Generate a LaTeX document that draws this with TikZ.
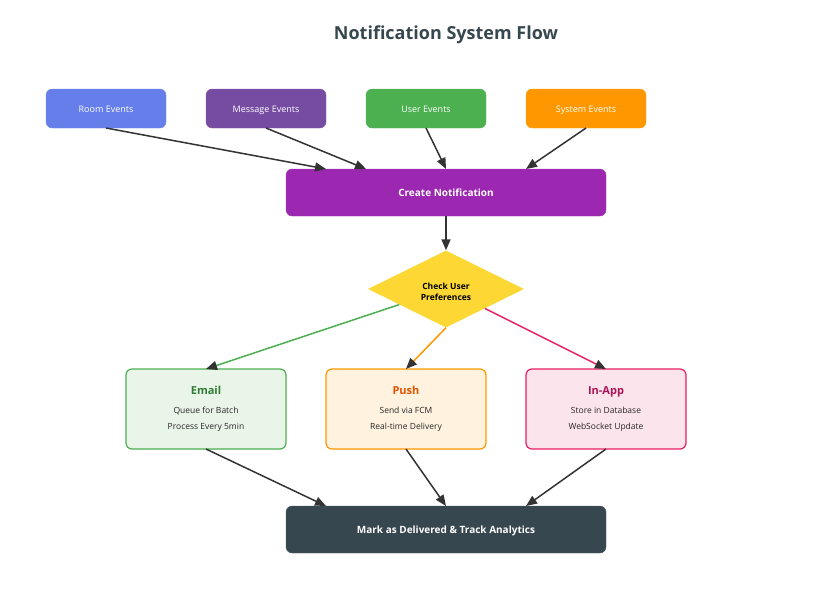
\documentclass[tikz,border=0pt]{standalone}
\usepackage{fontspec}
\setmainfont{Open Sans}
\usepackage{tikz}
\usetikzlibrary{positioning}
\usetikzlibrary{shapes.geometric}
\usetikzlibrary{arrows.meta}
\usetikzlibrary{calc}

\definecolor{titlegray}{HTML}{37474F}
\definecolor{roomblue}{HTML}{667EEA}
\definecolor{msgpurple}{HTML}{764BA2}
\definecolor{usergreen}{HTML}{4CAF50}
\definecolor{sysorange}{HTML}{FF9800}
\definecolor{createpurple}{HTML}{9C27B0}
\definecolor{prefyellow}{HTML}{FDD835}
\definecolor{emailtitle}{HTML}{2E7D32}
\definecolor{pushtitle}{HTML}{E65100}
\definecolor{inapppink}{HTML}{E91E63}
\definecolor{inapptitle}{HTML}{AD1457}
\definecolor{markslate}{HTML}{37474F}
\definecolor{arrowgray}{HTML}{333333}

\begin{document}
\begin{tikzpicture}[x=1pt,y=-1pt,
	event/.style={draw=#1!90!white, fill=#1, rounded corners=6pt, minimum width=120pt, minimum height=39pt, inner sep=0pt, outer sep=0pt, text height=8pt, text depth=0pt, text=white, font=\fontsize{9}{10}\selectfont},
	stage/.style={draw=#1!90!white, fill=#1, rounded corners=6pt, minimum width=320pt, minimum height=47pt, inner sep=0pt, outer sep=0pt, text height=8.5pt, text depth=0pt, text=white, font=\fontsize{10}{12}\selectfont\bfseries},
	channel/.style={draw=#1, fill=#1!12!white, line width=1.2pt, rounded corners=6pt, minimum width=160pt, minimum height=80pt, inner sep=0pt, outer sep=0pt, align=center, text=black!85, font=\fontsize{8.5}{16}\selectfont},
	flow/.style={-{Triangle[length=11pt,width=9pt,color=arrowgray]}, line width=1.5pt, draw=arrowgray},
	pref/.style={flow, draw=#1}]

	\useasboundingbox (0,0) rectangle (836,611);
	% Title %
	\node [text=titlegray, font=\fontsize{18}{21}\selectfont\bfseries] (title) at (446,35) {Notification System Flow};
	% Sources %
	\node [event=roomblue] (room) at (106,108.5) {Room Events};
	\node [event=msgpurple, right=40pt of room] (message) {Message Events};
	\node [event=usergreen, right=40pt of message] (user) {User Events};
	\node [event=sysorange, right=40pt of user] (system) {System Events};
	% Create %
	\node [stage=createpurple] (create) at (446,192.5) {Create Notification};
	% Preferences %
	\node [diamond, aspect=2, fill=prefyellow, minimum width=156pt, minimum height=77pt, inner sep=0pt, align=center, font=\fontsize{8.5}{11}\selectfont\bfseries] (check) at (446,289) {\rule{0pt}{12.5pt}Check User\\Preferences};
	% Channels %
	\node [channel=usergreen] (email) at (206,409) {{\fontsize{11}{13}\selectfont\bfseries\color{emailtitle}Email}\\[3pt]Queue for Batch\\Process Every 5min};
	\node [channel=sysorange, right=40pt of email] (push) {{\fontsize{11}{13}\selectfont\bfseries\color{pushtitle}Push}\\[3pt]Send via FCM\\Real-time Delivery};
	\node [channel=inapppink, right=40pt of push] (inapp) {{\fontsize{11}{13}\selectfont\bfseries\color{inapptitle}In-App}\\[3pt]Store in Database\\WebSocket Update};
	% Mark %
	\node [stage=markslate] (mark) at (446,529.5) {Mark as Delivered \& Track Analytics};
	% Arrows %
	\draw [flow] (room.south) -- ($(create.north west)!0.125!(create.north east)$);
	\draw [flow] (message.south) -- ($(create.north west)!0.25!(create.north east)$);
	\draw [flow] (user.south) -- ($(create.north west)!0.5!(create.north east)$);
	\draw [flow] (system.south) -- ($(create.north west)!0.75!(create.north east)$);
	\draw [flow] (create.south) -- (check.north);
	\draw [pref=usergreen] (check) -- (email.north);
	\draw [pref=sysorange] (check.south) -- (push.north);
	\draw [pref=inapppink] (check) -- (inapp.north);
	\draw [flow] (email.south) -- ($(mark.north west)!0.125!(mark.north east)$);
	\draw [flow] (push.south) -- ($(mark.north west)!0.5!(mark.north east)$);
	\draw [flow] (inapp.south) -- ($(mark.north west)!0.75!(mark.north east)$);
\end{tikzpicture}
\end{document}
